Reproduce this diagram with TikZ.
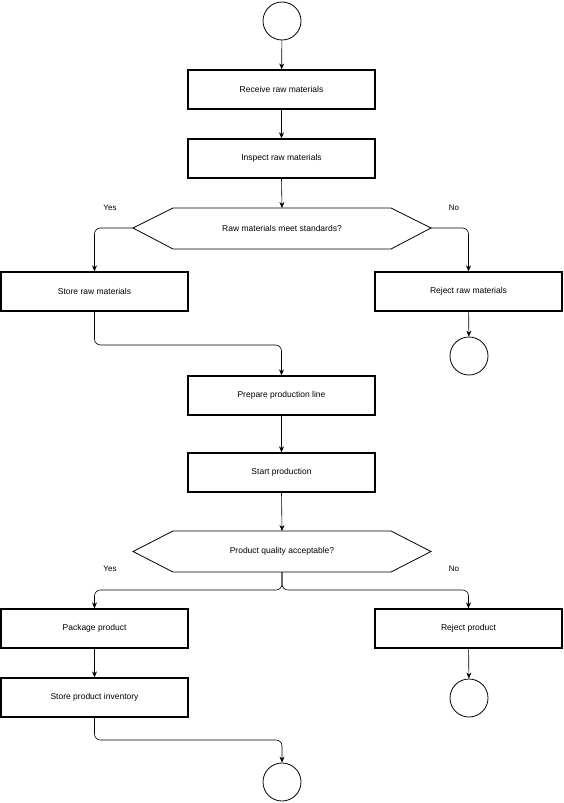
\documentclass[tikz,border=0pt]{standalone}
\usepackage{fontspec}
\setmainfont{Liberation Sans}
\usetikzlibrary{arrows.meta}
\begin{document}
\begin{tikzpicture}[x=1pt,y=-1pt,
 box/.style={draw,line width=1.3pt,minimum width=187pt,minimum height=39pt,inner sep=0pt,font=\fontsize{8.5}{10}\selectfont},
 term/.style={draw,circle,minimum size=38pt,inner sep=0pt,line width=0.8pt},
 lbl/.style={font=\fontsize{8}{10}\selectfont},
 arr/.style={-{Stealth[length=6pt,width=5pt]},line width=0.6pt,rounded corners=6pt}]
\useasboundingbox (0,0) rectangle (563,803);
\node[term] (s) at (282,21) {};
\node[box] (r) at (281.5,89.5) {Receive raw materials};
\node[box] (i) at (281.5,158.5) {Inspect raw materials};
\draw[line width=0.8pt] (133,228)--(173,208)--(391,208)--(431,228)--(391,249)--(173,249)--cycle;
\node[font=\fontsize{8.5}{10}\selectfont] (d1) at (282,228) {Raw materials meet standards?};
\coordinate (d1l) at (133,228); \coordinate (d1r) at (431,228);
\node[box] (sr) at (94.5,291.5) {Store raw materials};
\node[box] (rr) at (468.5,291.5) {Reject raw materials};
\node[term] (e1) at (469,356) {};
\node[box] (p) at (281.5,395.5) {Prepare production line};
\node[box] (st) at (281.5,472.5) {Start production};
\draw[line width=0.8pt] (133,551.5)--(173,531)--(391,531)--(431,551.5)--(391,572)--(173,572)--cycle;
\node[font=\fontsize{8.5}{10}\selectfont] (d2) at (282,551.5) {Product quality acceptable?};
\coordinate (d2b) at (282,572);
\node[box] (pk) at (94.5,628.5) {Package product};
\node[box] (rp) at (468.5,628.5) {Reject product};
\node[box] (si) at (94.5,697.5) {Store product inventory};
\node[term] (e2) at (469,698) {};
\node[term] (e3) at (282,782) {};
\node[lbl] at (110,208) {Yes};
\node[lbl] at (454,208) {No};
\node[lbl] at (110,569) {Yes};
\node[lbl] at (454,569) {No};
\draw[arr] (s)--(r);
\draw[arr] (r)--(i);
\draw[arr] (i.south)--(282,208);
\draw[arr] (d1l)-|(sr.north);
\draw[arr] (d1r)-|(rr.north);
\draw[arr] (rr)--(e1);
\draw[arr] (sr.south)--(94.5,345)-|(p.north);
\draw[arr] (p)--(st);
\draw[arr] (st.south)--(282,531);
\draw[arr] (d2b)--(282,590)-|(pk.north);
\draw[arr] (d2b)--(282,590)-|(rp.north);
\draw[arr] (pk)--(si);
\draw[arr] (rp)--(e2);
\draw[arr] (si.south)--(94.5,740)-|(e3.north);
\end{tikzpicture}
\end{document}
